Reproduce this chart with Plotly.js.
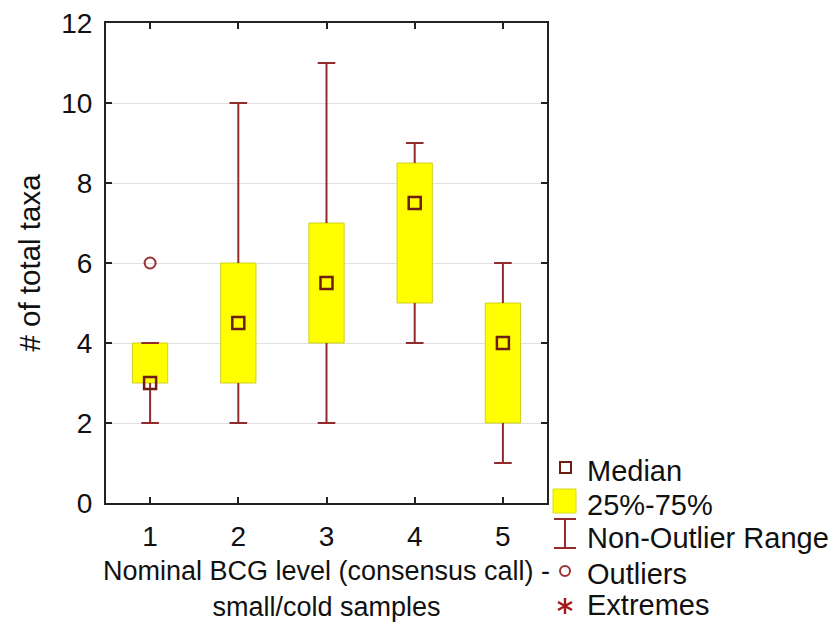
<!DOCTYPE html>
<html>
<head>
<meta charset="utf-8">
<script src="https://cdn.plot.ly/plotly-3.0.1.min.js"></script>
<style>
  html, body { margin: 0; padding: 0; background: #fff; }
  #chart { width: 839px; height: 630px; }
</style>
</head>
<body>
<div id="chart"></div>
<script>
// BCG level categories and box-plot statistics of total taxa per sample
const levels = [1, 2, 3, 4, 5];
const q1 = [3, 3, 4, 5, 2];
const q3 = [4, 6, 7, 8.5, 5];
const medians = [3, 4.5, 5.5, 7.5, 4];
const rangeLow = [2, 2, 2, 4, 1];
const rangeHigh = [4, 10, 11, 9, 6];
const outlierLevel = [1];
const outlierValue = [6];
const yTicks = [0, 2, 4, 6, 8, 10, 12];

const FONT = 'Liberation Sans, Arial, sans-serif';
const WHISKER = '#922b2b';
const MEDIAN = '#6e1e10';
const OUTLIER = '#9c3030';
const YELLOW = '#ffff00';
const CAP = 0.1;   // half-width of the whisker caps, in category units
const BOXW = 0.4;  // box width, in category units

// Whiskers: vertical segment plus cap at each end, separated by gaps
const wx = [], wy = [];
levels.forEach((lv, i) => {
  wx.push(lv, lv, null, lv - CAP, lv + CAP, null);
  wy.push(q3[i], rangeHigh[i], null, rangeHigh[i], rangeHigh[i], null);
  wx.push(lv, lv, null, lv - CAP, lv + CAP, null);
  wy.push(q1[i], rangeLow[i], null, rangeLow[i], rangeLow[i], null);
});

const traces = [
  {
    type: 'bar',
    x: levels,
    base: q1,
    y: q3.map((v, i) => v - q1[i]),
    width: BOXW,
    marker: { color: YELLOW, line: { color: '#cfcf20', width: 1 } },
    hoverinfo: 'skip',
    showlegend: false
  },
  {
    type: 'scatter',
    mode: 'lines',
    x: wx,
    y: wy,
    line: { color: WHISKER, width: 2 },
    connectgaps: false,
    hoverinfo: 'skip',
    showlegend: false
  },
  {
    type: 'scatter',
    mode: 'markers',
    x: levels,
    y: medians,
    marker: { symbol: 'square-open', size: 12, color: MEDIAN, line: { width: 2.5, color: MEDIAN } },
    showlegend: false
  },
  {
    type: 'scatter',
    mode: 'markers',
    x: outlierLevel,
    y: outlierValue,
    marker: { symbol: 'circle-open', size: 11, color: OUTLIER, line: { width: 2, color: OUTLIER } },
    showlegend: false
  }
];

// Key drawn beside the plot area; positions given in pixels, converted to paper units
const L = 106, R = 547, T = 23, B = 503;
const px = v => (v - L) / (R - L);
const py = v => (B - v) / (B - T);
const P = { xref: 'paper', yref: 'paper' };

const keyShapes = [
  // Median
  { ...P, type: 'rect', x0: px(560), x1: px(571), y0: py(473), y1: py(462),
    line: { color: MEDIAN, width: 2 }, fillcolor: 'rgba(0,0,0,0)' },
  // 25%-75%
  { ...P, type: 'rect', x0: px(553), x1: px(576), y0: py(513), y1: py(489),
    line: { color: '#d8d820', width: 1 }, fillcolor: YELLOW },
  // Non-Outlier Range
  { ...P, type: 'path', path: `M ${px(565)} ${py(519)} L ${px(565)} ${py(548)}`, line: { color: WHISKER, width: 2 } },
  { ...P, type: 'path', path: `M ${px(554)} ${py(519)} L ${px(576)} ${py(519)}`, line: { color: WHISKER, width: 2 } },
  { ...P, type: 'path', path: `M ${px(554)} ${py(548)} L ${px(576)} ${py(548)}`, line: { color: WHISKER, width: 2 } },
  // Outliers
  { ...P, type: 'circle', x0: px(560), x1: px(570), y0: py(576), y1: py(566),
    line: { color: OUTLIER, width: 2 }, fillcolor: 'rgba(0,0,0,0)' },
  // Extremes (asterisk)
  { ...P, type: 'path', path: `M ${px(565)} ${py(598)} L ${px(565)} ${py(614)} M ${px(558)} ${py(602)} L ${px(572)} ${py(610)} M ${px(558)} ${py(610)} L ${px(572)} ${py(602)}`,
    line: { color: '#a01818', width: 2.4 } }
];

const keyLabels = [
  ['Median', 469],
  ['25%-75%', 503],
  ['Non-Outlier Range', 536],
  ['Outliers', 572],
  ['Extremes', 603]
].map(([text, y]) => ({
  text: text,
  xref: 'paper', yref: 'paper',
  x: px(585), y: py(y + 2),
  xanchor: 'left', yanchor: 'middle',
  showarrow: false,
  font: { family: FONT, size: 29, color: '#111' }
}));

const layout = {
  width: 839,
  height: 630,
  margin: { l: L, r: 839 - R, t: T, b: 630 - B, pad: 0 },
  paper_bgcolor: '#fff',
  plot_bgcolor: '#fff',
  font: { family: FONT, size: 27, color: '#111' },
  showlegend: false,
  barmode: 'overlay',
  xaxis: {
    range: [0.5, 5.5],
    tickmode: 'array',
    tickvals: levels,
    ticktext: levels.map(String),
    ticks: 'inside',
    ticklen: 6,
    tickwidth: 2,
    tickcolor: '#222',
    showline: true,
    linecolor: '#222',
    linewidth: 2,
    mirror: 'ticks',
    showgrid: false,
    zeroline: false,
    ticklabelstandoff: 7,
    tickfont: { family: FONT, size: 28, color: '#111' },
    title: {
      text: 'Nominal BCG level (consensus call) -<br>small/cold samples',
      font: { family: FONT, size: 27, color: '#111' },
      standoff: 11
    }
  },
  yaxis: {
    range: [0, 12],
    tickmode: 'array',
    tickvals: yTicks,
    ticktext: yTicks.map(String),
    ticks: 'inside',
    ticklen: 6,
    tickwidth: 2,
    tickcolor: '#222',
    showline: true,
    linecolor: '#222',
    linewidth: 2,
    mirror: 'ticks',
    showgrid: true,
    gridcolor: '#e0e0e0',
    gridwidth: 1,
    zeroline: false,
    ticklabelstandoff: 6,
    tickfont: { family: FONT, size: 28, color: '#111' },
    title: {
      text: '# of total taxa',
      font: { family: FONT, size: 29.5, color: '#111' },
      standoff: 12
    }
  },
  shapes: keyShapes,
  annotations: keyLabels
};

Plotly.newPlot('chart', traces, layout, { displayModeBar: false, staticPlot: true });
</script>
</body>
</html>
